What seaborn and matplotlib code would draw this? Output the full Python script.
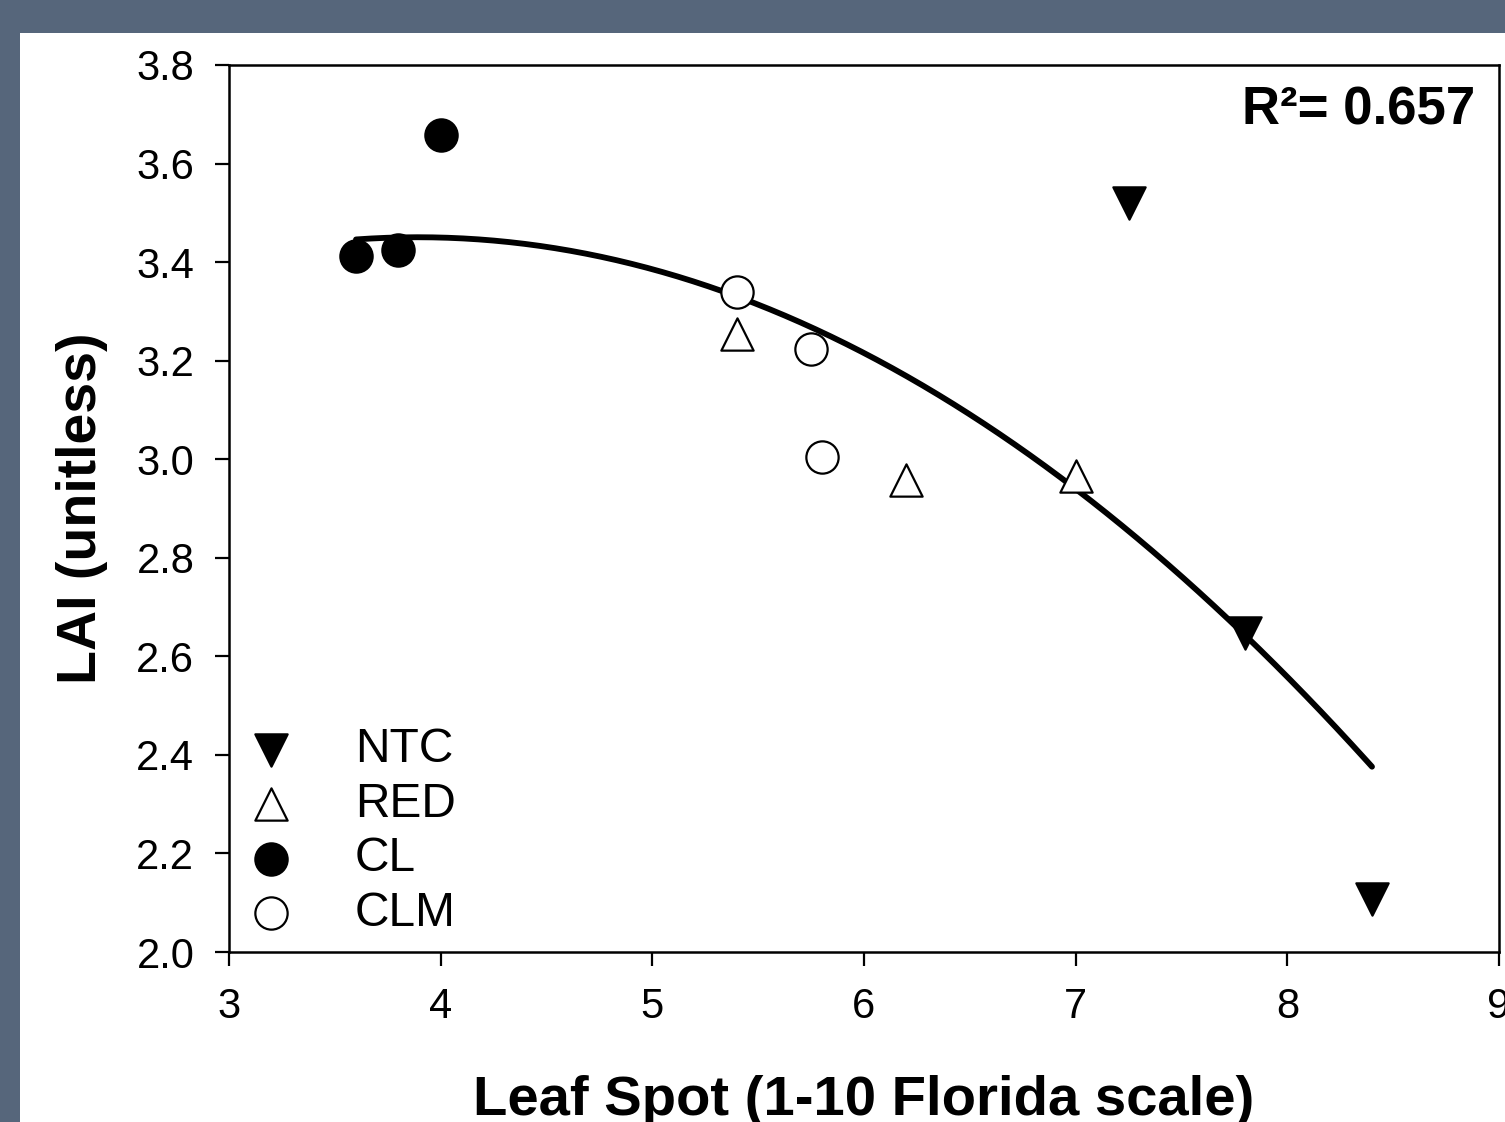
import numpy as np
import pandas as pd
import matplotlib
matplotlib.use("Agg")
import matplotlib.pyplot as plt
from matplotlib.patches import Rectangle
import seaborn as sns

# ---- data ----
ntc_x = [7.25, 7.8, 8.4]
ntc_y = [3.52, 2.647, 2.107]
red_x = [5.4, 6.2, 7.0]
red_y = [3.254, 2.957, 2.966]
cl_x = [3.6, 3.8, 4.0]
cl_y = [3.412, 3.425, 3.658]
clm_x = [5.4, 5.75, 5.8]
clm_y = [3.339, 3.224, 3.005]
groups = ["NTC", "RED", "CL", "CLM"]
r2_text = "R²= 0.657"
x_ticks = [3, 4, 5, 6, 7, 8, 9]
y_ticks = [2.0, 2.2, 2.4, 2.6, 2.8, 3.0, 3.2, 3.4, 3.6, 3.8]

sns.set_style("white")
plt.rcParams["font.family"] = ["Liberation Sans", "DejaVu Sans"]
plt.rcParams["text.color"] = "black"
plt.rcParams["axes.labelcolor"] = "black"
plt.rcParams["xtick.color"] = "black"
plt.rcParams["ytick.color"] = "black"

fig = plt.figure(figsize=(15.05, 11.22), dpi=100)
fig.patch.set_facecolor("#56667b")
fig.patches.append(Rectangle((20 / 1505, 0), 1.0, (1122 - 33) / 1122,
                             transform=fig.transFigure, facecolor="white",
                             edgecolor="none", zorder=-5))

ax = fig.add_axes([229 / 1505, 1 - 952 / 1122, (1499 - 229) / 1505, (952 - 65) / 1122])
ax.set_zorder(2)
ax.set_facecolor("white")

# quadratic regression line
all_x = np.array(ntc_x + red_x + cl_x + clm_x)
all_y = np.array(ntc_y + red_y + cl_y + clm_y)
coef = np.polyfit(all_x, all_y, 2)
xs = np.linspace(all_x.min(), all_x.max(), 200)
ys = np.polyval(coef, xs)
ax.plot(xs, ys, color="black", lw=4.2, solid_capstyle="round", zorder=2)

specs = [
    (ntc_x, ntc_y, "v", "black", "NTC"),
    (red_x, red_y, "^", "white", "RED"),
    (cl_x, cl_y, "o", "black", "CL"),
    (clm_x, clm_y, "o", "white", "CLM"),
]
for gx, gy, m, fc, lab in specs:
    sns.scatterplot(x=gx, y=gy, marker=m, s=540, color=fc, edgecolor="black",
                    linewidth=1.6, label=lab, ax=ax, zorder=3)

ax.set_xlim(3, 9)
ax.set_ylim(2.0, 3.8)
ax.set_xticks(x_ticks)
ax.set_yticks(y_ticks)
ax.set_xticklabels([str(t) for t in x_ticks])
ax.set_yticklabels([f"{t:.1f}" for t in y_ticks])
ax.tick_params(axis="both", direction="out", length=10, width=1.6, labelsize=30,
               colors="black", pad=15, bottom=True, left=True)
for sp in ax.spines.values():
    sp.set_color("black")
    sp.set_linewidth(1.8)

ax.set_xlabel("Leaf Spot (1-10 Florida scale)", fontsize=40.5, fontweight="bold",
              labelpad=35, color="black")
ax.set_ylabel("LAI (unitless)", fontsize=40, fontweight="bold", labelpad=20,
              color="black")

ax.text(0.981, 0.977, r2_text, transform=ax.transAxes, ha="right", va="top",
        fontsize=38, fontweight="bold", color="black")

leg = ax.legend(loc="lower left", bbox_to_anchor=(-0.016, -0.025), frameon=False,
                fontsize=34.5, handletextpad=1.25, labelspacing=0.2,
                handlelength=1.0, borderpad=0.3)
for t in leg.get_texts():
    t.set_color("black")

fig.savefig("out.png", dpi=100, facecolor=fig.get_facecolor())
